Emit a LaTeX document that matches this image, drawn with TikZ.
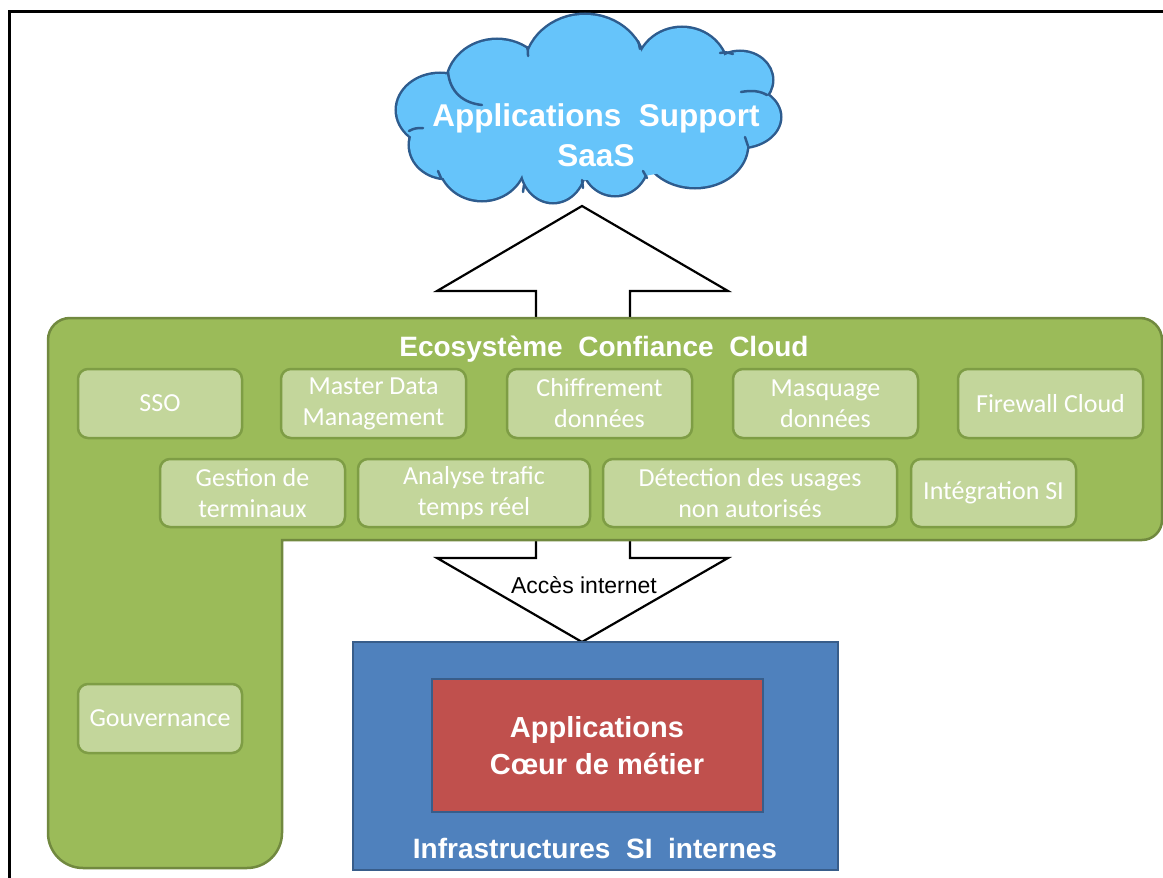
\documentclass[tikz,border=0pt]{standalone}
\usepackage{fontspec}
\setmainfont{Carlito}
\newfontfamily\arialfont{Liberation Sans}
\usetikzlibrary{calc}
\definecolor{gfill}{HTML}{9BBB59}
\definecolor{gline}{HTML}{71893F}
\definecolor{bfill}{HTML}{C3D69B}
\definecolor{bline}{HTML}{7E9D45}
\definecolor{cfill}{HTML}{66C4FA}
\definecolor{cline}{HTML}{2E5C8E}
\definecolor{infill}{HTML}{4F81BD}
\definecolor{inline}{HTML}{385D8A}
\definecolor{rfill}{HTML}{C0504D}
\newcommand\dsp{\ \ }
\tikzset{
  svc/.style={draw=bline, fill=bfill, line width=2.5pt, rounded corners=10pt,
    text=white, align=center, font=\fontsize{26}{31}\selectfont, inner sep=0pt},
  bigtitle/.style={text=white, font=\arialfont\bfseries\fontsize{28}{34}\selectfont, align=center},
  blockarrow/.style={draw=black, fill=white, line width=2.2pt, line join=miter},
  cloudhook/.style={draw=cline, line width=2.5pt, line cap=round},
}
\begin{document}
\begin{tikzpicture}[x=1pt,y=-1pt]
\useasboundingbox (0,0) rectangle (1163,878);
% frame
\draw[line width=3pt] (9,878) -- (9,11) -- (1163,11);

% cloud (union of puffs)
\def\puffs{440/110/43/36, 447/145/37/33, 482/160/43/40, 553/165/32/37, 615/160/33/35, 695/145/52/42, 740/117/40/30, 740/80/32/28, 682/70/45/42, 585/70/60/55, 497/85/50/45}
\foreach \cx/\cy/\rx/\ry in \puffs {\draw[cline, line width=5pt] (\cx,\cy) ellipse[x radius=\rx, y radius=\ry];}
\foreach \cx/\cy/\rx/\ry in \puffs {\fill[cfill] (\cx,\cy) ellipse[x radius=\rx, y radius=\ry];}
\fill[cfill] (590,120) ellipse[x radius=150, y radius=60];
% inner hooks of the cloud
\draw[cloudhook] (448,72) .. controls (450,92) and (463,103) .. (482,105);
\draw[cloudhook] (527,47) .. controls (528,50) .. (528,56);
\draw[cloudhook] (638,41) .. controls (639,44) .. (640,49);
\draw[cloudhook] (720,53) .. controls (726,52) .. (733,54);
\draw[cloudhook] (741,92) .. controls (752,90) and (760,91) .. (767,95);
\draw[cloudhook] (745,137) .. controls (746,141) .. (748,146);
\draw[cloudhook] (647,178) .. controls (645,175) .. (643,171);
\draw[cloudhook] (583,188) .. controls (583,184) .. (582,180);
\draw[cloudhook] (523,192) .. controls (523,189) .. (524,185);
\draw[cloudhook] (441,178) .. controls (440,175) .. (438,171);
\draw[cloudhook] (409,131) .. controls (414,128) and (418,128) .. (423,128);
\node[text=white, font=\arialfont\bfseries\fontsize{31.5}{40}\selectfont, align=center] (saas) at (596,135) {Applications\dsp Support\\SaaS};

% block arrows
\draw[blockarrow] (582,206) -- (728,291) -- (630,291) -- (630,330) -- (536,330) -- (536,291) -- (437,291) -- cycle;
\draw[blockarrow] (536,530) -- (536,558) -- (437,558) -- (582,642) -- (728,558) -- (630,558) -- (630,530) -- cycle;

% green L-shaped ecosystem
\draw[fill=gfill, draw=gline, line width=2.5pt]
  (48,340) arc[start angle=180, end angle=270, radius=22]
  -- (1140,318) arc[start angle=270, end angle=360, radius=22]
  -- (1162,520) arc[start angle=0, end angle=90, radius=20]
  -- (282,540)
  -- (282,833) arc[start angle=0, end angle=90, radius=35]
  -- (83,868) arc[start angle=90, end angle=180, radius=35]
  -- cycle;
\node[bigtitle] (eco) at (604,349) {Ecosystème\dsp Confiance\dsp Cloud};

% services row 1
\node[svc, minimum width=164pt, minimum height=69pt] (sso) at (160,403.5) {SSO};
\node[svc, minimum width=185pt, minimum height=69pt] (mdm) at (373.5,403.5) {Master Data\\Management};
\node[svc, minimum width=185pt, minimum height=69pt] (chif) at (599.5,403.5) {Chiffrement\\données};
\node[svc, minimum width=185pt, minimum height=69pt] (masq) at (825.5,403.5) {Masquage\\données};
\node[svc, minimum width=185pt, minimum height=69pt] (fw) at (1050.5,403.5) {Firewall Cloud};
% services row 2
\node[svc, minimum width=185pt, minimum height=68pt] (gest) at (252.5,493) {Gestion de\\terminaux};
\node[svc, minimum width=232pt, minimum height=68pt] (ana) at (474,493) {Analyse trafic\\temps réel};
\node[svc, minimum width=294pt, minimum height=68pt] (detect) at (750,493) {Détection des usages\\non autorisés};
\node[svc, minimum width=165pt, minimum height=68pt] (integ) at (993.5,493) {Intégration SI};
\node[svc, minimum width=164pt, minimum height=69pt] (gouv) at (160,718.5) {Gouvernance};

\node[font=\arialfont\fontsize{23}{28}\selectfont] (acces) at (584,585) {Accès internet};

% internal infrastructure
\node[draw=inline, fill=infill, line width=2.5pt, minimum width=485pt, minimum height=228pt, inner sep=0pt] (infra) at (595.5,756) {};
\node[draw=inline, fill=rfill, line width=2.5pt, minimum width=331pt, minimum height=133pt, inner sep=0pt] (core) at (597.5,745.5) {};
\node[text=white, font=\arialfont\bfseries\fontsize{29}{37}\selectfont, align=center] (coretext) at (597,746) {Applications\\Cœur de métier};
\node[bigtitle] (infratitle) at (595,848) {Infrastructures\dsp SI\dsp internes};
\end{tikzpicture}
\end{document}
